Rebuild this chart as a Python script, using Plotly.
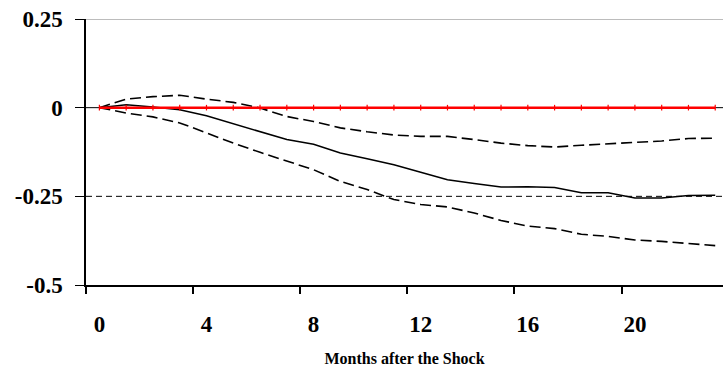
import plotly.graph_objects as go

# Impulse response: months after the shock
months = list(range(24))

# Point estimate of the response
response = [0.0, 0.008, 0.002, -0.006, -0.023, -0.045, -0.066, -0.090, -0.103, -0.128,
            -0.144, -0.161, -0.182, -0.203, -0.214, -0.224, -0.223, -0.225, -0.240, -0.240,
            -0.255, -0.255, -0.248, -0.247]

# Upper and lower confidence bands
upper_band = [0.0, 0.024, 0.031, 0.035, 0.024, 0.015, -0.001, -0.025, -0.039, -0.057,
              -0.068, -0.077, -0.081, -0.081, -0.090, -0.100, -0.107, -0.111, -0.106, -0.101,
              -0.098, -0.094, -0.087, -0.086]
lower_band = [0.0, -0.015, -0.026, -0.043, -0.071, -0.100, -0.126, -0.151, -0.175, -0.208,
              -0.231, -0.259, -0.273, -0.280, -0.297, -0.318, -0.334, -0.341, -0.357, -0.363,
              -0.373, -0.377, -0.383, -0.389]

# Zero baseline
baseline = [0.0] * 24

x_tick_vals = [0, 4, 8, 12, 16, 20]
x_tick_text = ["0", "4", "8", "12", "16", "20"]
x_boundaries = [-0.5, 3.5, 7.5, 11.5, 15.5, 19.5]
y_tick_vals = [0.25, 0, -0.25, -0.5]
y_tick_text = ["0.25", "0", "-0.25", "-0.5"]

FONT = '"Liberation Serif", "Times New Roman", Times, serif'
X_RANGE = [-0.5, 23.29]

fig = go.Figure()

fig.add_trace(go.Scatter(x=months, y=upper_band, mode="lines",
                         line=dict(color="black", width=1.6, dash="11px,5px"),
                         showlegend=False, hoverinfo="skip"))
fig.add_trace(go.Scatter(x=months, y=lower_band, mode="lines",
                         line=dict(color="black", width=1.6, dash="11px,5px"),
                         showlegend=False, hoverinfo="skip"))
fig.add_trace(go.Scatter(x=months, y=response, mode="lines",
                         line=dict(color="black", width=1.5),
                         showlegend=False, hoverinfo="skip"))
fig.add_trace(go.Scatter(x=months, y=baseline, mode="lines+markers",
                         line=dict(color="#FF0000", width=2.5),
                         marker=dict(symbol="line-ns-open", size=4,
                                     line=dict(color="#E00000", width=1.2)),
                         showlegend=False, hoverinfo="skip"))

# Tick marks on category boundaries (labels sit at category centres)
fig.add_trace(go.Scatter(x=[None], y=[None], xaxis="x2", showlegend=False))

# Horizontal reference lines
fig.add_shape(type="line", xref="paper", yref="y", x0=0, x1=1, y0=0.25, y1=0.25,
              line=dict(color="#7a7a7a", width=1), layer="below")
fig.add_shape(type="line", xref="paper", yref="y", x0=0, x1=1, y0=-0.25, y1=-0.25,
              line=dict(color="black", width=1, dash="6px,4px"), layer="below")
fig.add_shape(type="line", xref="paper", yref="y", x0=0, x1=1, y0=0, y1=0,
              line=dict(color="black", width=1), layer="below")

fig.update_layout(
    width=723, height=369,
    margin=dict(l=86, r=0, t=19, b=84),
    paper_bgcolor="white", plot_bgcolor="white",
    font=dict(family=FONT, color="black"),
    xaxis=dict(range=X_RANGE, tickmode="array", tickvals=x_tick_vals,
               ticktext=[f"<b>{t}</b>" for t in x_tick_text],
               ticks="", showgrid=False, zeroline=False, showline=True,
               linecolor="black", linewidth=1.5, ticklabelstandoff=18,
               tickfont=dict(family=FONT, size=23, color="black"),
               title=dict(text="<b>Months after the Shock</b>", standoff=16,
                          font=dict(family=FONT, size=16, color="black"))),
    xaxis2=dict(range=X_RANGE, overlaying="x", anchor="y", side="bottom",
                tickmode="array", tickvals=x_boundaries, ticks="outside", ticklen=8,
                tickwidth=1.5, tickcolor="black", showticklabels=False,
                showgrid=False, zeroline=False, showline=False),
    yaxis=dict(range=[-0.5, 0.25], tickmode="array", tickvals=y_tick_vals,
               ticktext=[f"<b>{t}</b>" for t in y_tick_text],
               ticks="outside", ticklen=9, tickwidth=1, tickcolor="black",
               showgrid=False, zeroline=False, showline=True,
               linecolor="black", linewidth=1.5, ticklabelstandoff=8,
               tickfont=dict(family=FONT, size=23, color="black")),
)

fig.write_html("out.html")
